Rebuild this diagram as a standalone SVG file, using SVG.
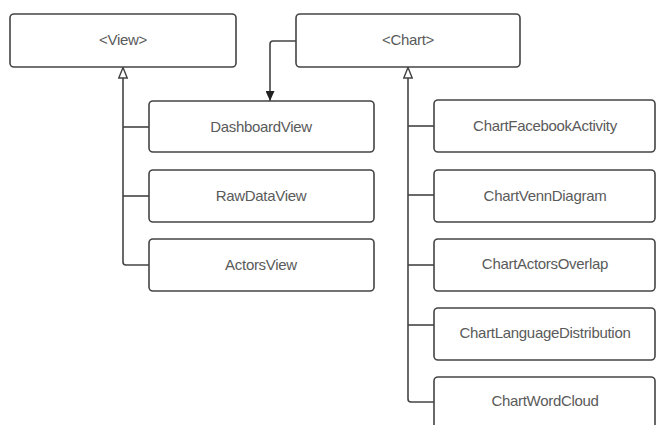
<svg xmlns="http://www.w3.org/2000/svg" width="657" height="425" viewBox="0 0 657 425">
<style>
.box{fill:#fff;stroke:#444;stroke-width:1.6}
.lbl{font-family:"Liberation Sans",Arial,sans-serif;font-size:15px;fill:#5a5a5a;text-anchor:middle;dominant-baseline:central;letter-spacing:-0.3px}
.ln{fill:none;stroke:#444;stroke-width:1.6;stroke-linejoin:round}
</style>
<defs>
<marker id="tri" viewBox="0 0 12 10" refX="0" refY="5" markerWidth="12" markerHeight="10" markerUnits="userSpaceOnUse" orient="auto">
<path d="M0.5,5 L11,0.8 L11,9.2 Z" fill="#fff" stroke="#444" stroke-width="1.4"/>
</marker>
<marker id="fill" viewBox="0 0 11 9" refX="10" refY="4.5" markerWidth="11" markerHeight="9" markerUnits="userSpaceOnUse" orient="auto">
<path d="M0,0 L10,4.5 L0,9 Z" fill="#222"/>
</marker>
</defs>
<rect width="657" height="425" fill="#fff"/>
<g id="connectors">
<path class="ln" d="M123,67 V262 Q123,265 126,265 H149" marker-start="url(#tri)"/>
<path class="ln" d="M123,127 H149"/>
<path class="ln" d="M123,196 H149"/>
<path class="ln" d="M408,67 V399 Q408,402 411,402 H434" marker-start="url(#tri)"/>
<path class="ln" d="M408,126 H434"/>
<path class="ln" d="M408,195 H434"/>
<path class="ln" d="M408,265 H434"/>
<path class="ln" d="M408,325 H434"/>
<path class="ln" d="M296,41 H273 Q270,41 270,44 V101" marker-end="url(#fill)"/>
</g>
<g id="view"><rect class="box" x="10" y="14" width="226" height="53" rx="4"/><text class="lbl" x="123" y="39">&lt;View&gt;</text></g>
<g id="chart"><rect class="box" x="296" y="14" width="224" height="53" rx="4"/><text class="lbl" x="408" y="39">&lt;Chart&gt;</text></g>
<g id="dashboardview"><rect class="box" x="149" y="101" width="225" height="51" rx="4"/><text class="lbl" x="261" y="126">DashboardView</text></g>
<g id="rawdataview"><rect class="box" x="149" y="170" width="225" height="52" rx="4"/><text class="lbl" x="261" y="195">RawDataView</text></g>
<g id="actorsview"><rect class="box" x="149" y="239" width="225" height="52" rx="4"/><text class="lbl" x="261" y="264">ActorsView</text></g>
<g id="chartfacebookactivity"><rect class="box" x="434" y="100" width="221" height="52" rx="4"/><text class="lbl" x="545" y="125">ChartFacebookActivity</text></g>
<g id="chartvenndiagram"><rect class="box" x="434" y="170" width="221" height="52" rx="4"/><text class="lbl" x="545" y="195">ChartVennDiagram</text></g>
<g id="chartactorsoverlap"><rect class="box" x="434" y="239" width="221" height="52" rx="4"/><text class="lbl" x="545" y="263">ChartActorsOverlap</text></g>
<g id="chartlanguagedistribution"><rect class="box" x="434" y="308" width="221" height="52" rx="4"/><text class="lbl" x="545" y="332">ChartLanguageDistribution</text></g>
<g id="chartwordcloud"><rect class="box" x="434" y="377" width="221" height="60" rx="4"/><text class="lbl" x="545" y="400">ChartWordCloud</text></g>
</svg>
